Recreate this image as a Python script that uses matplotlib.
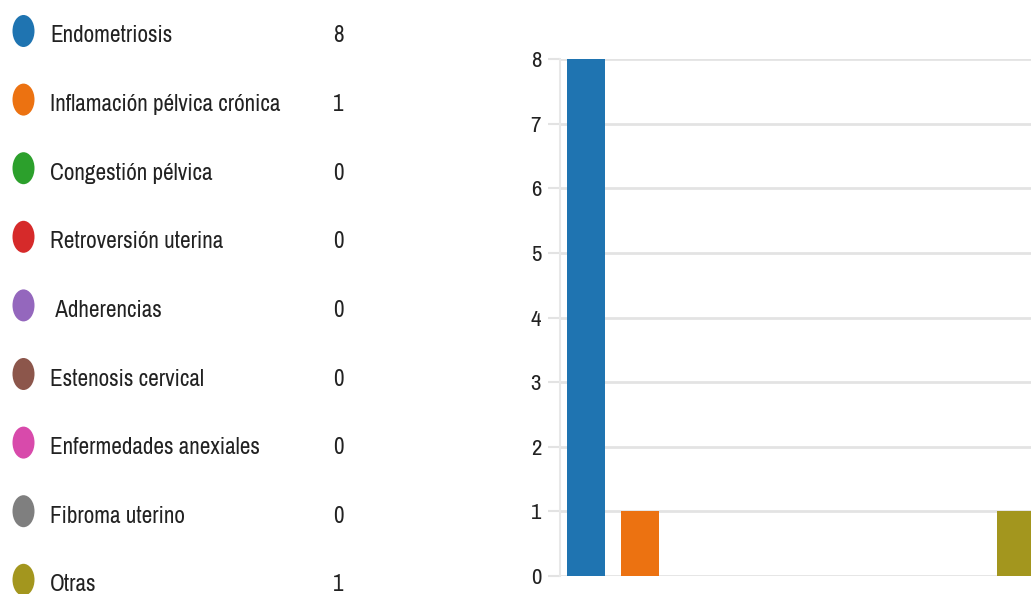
import matplotlib
matplotlib.use("Agg")
import matplotlib.pyplot as plt
from matplotlib.patches import Ellipse
from matplotlib import font_manager

categories = ["Endometriosis", "Inflamación pélvica crónica", "Congestión pélvica",
              "Retroversión uterina", " Adherencias", "Estenosis cervical",
              "Enfermedades anexiales", "Fibroma uterino", "Otras"]
values = [8, 1, 0, 0, 0, 0, 0, 0, 1]
colors = ["#1f74b1", "#ec7211", "#2ca02c", "#d62a2a", "#9467bd", "#8c564b",
          "#d84aab", "#7f7f7f", "#a3961e"]
yticks = [0, 1, 2, 3, 4, 5, 6, 7, 8]

# look for a narrow face if one is installed
narrow = None
for f in font_manager.fontManager.ttflist:
    n = f.name.lower()
    if ("narrow" in n or "condensed" in n) and f.style == "normal":
        narrow = f.name
        break
if narrow is None:
    for f in font_manager.fontManager.ttflist:
        if f.name == "DejaVu Sans" and str(f.stretch) in ("condensed", "semi-condensed"):
            narrow = "DejaVu Sans"
            break

if narrow is not None:
    FONT = [narrow, "DejaVu Sans"]
    LSIZE, TSIZE, OFF = 16.7, 16.5, 11.5
    STRETCH = "condensed"
else:
    FONT = ["DejaVu Sans"]
    LSIZE, TSIZE, OFF = 12.8, 13, 9.5
    STRETCH = "normal"
plt.rcParams['font.family'] = FONT

W, H = 1031, 594
fig = plt.figure(figsize=(W / 100, H / 100), dpi=100)

# legend area in pixel coordinates
lax = fig.add_axes([0, 0, 1, 1])
lax.set_xlim(0, W)
lax.set_ylim(H, 0)
lax.axis("off")
for i, (cat, val, col) in enumerate(zip(categories, values, colors)):
    cy = 31 + 68.6 * i
    lax.add_patch(Ellipse((23.5, cy), 22, 32, color=col, lw=0))
    lax.text(50, cy + OFF, cat, fontsize=LSIZE, fontstretch=STRETCH,
             color="#222222", va="baseline", ha="left")
    lax.text(338, cy + OFF, str(val), fontsize=LSIZE, fontstretch=STRETCH,
             color="#222222", va="baseline", ha="center")

# bar chart
left = 560 / W
bottom = 1 - 576 / H
top = 1 - 59 / H
ax = fig.add_axes([left, bottom, 1 - left, top - bottom])
x = list(range(len(categories)))
ax.bar(x, values, width=0.716, color=colors, zorder=3)
ax.set_ylim(0, 8)
ax.set_xlim(-0.484, 8.28)
ax.set_yticks(yticks)
ax.set_yticklabels([str(t) for t in yticks], fontsize=TSIZE, fontstretch=STRETCH,
                   color="#222222")
ax.yaxis.grid(True, color="#e3e3e3", lw=2, zorder=0)
ax.tick_params(axis="y", length=8.6, width=1.5, color="#e3e3e3", pad=5)
ax.set_xticks([])
for s in ["top", "right", "bottom"]:
    ax.spines[s].set_visible(False)
ax.spines["left"].set_color("#e8e8e8")
ax.spines["left"].set_linewidth(1.5)

fig.savefig("out.png", dpi=100)
